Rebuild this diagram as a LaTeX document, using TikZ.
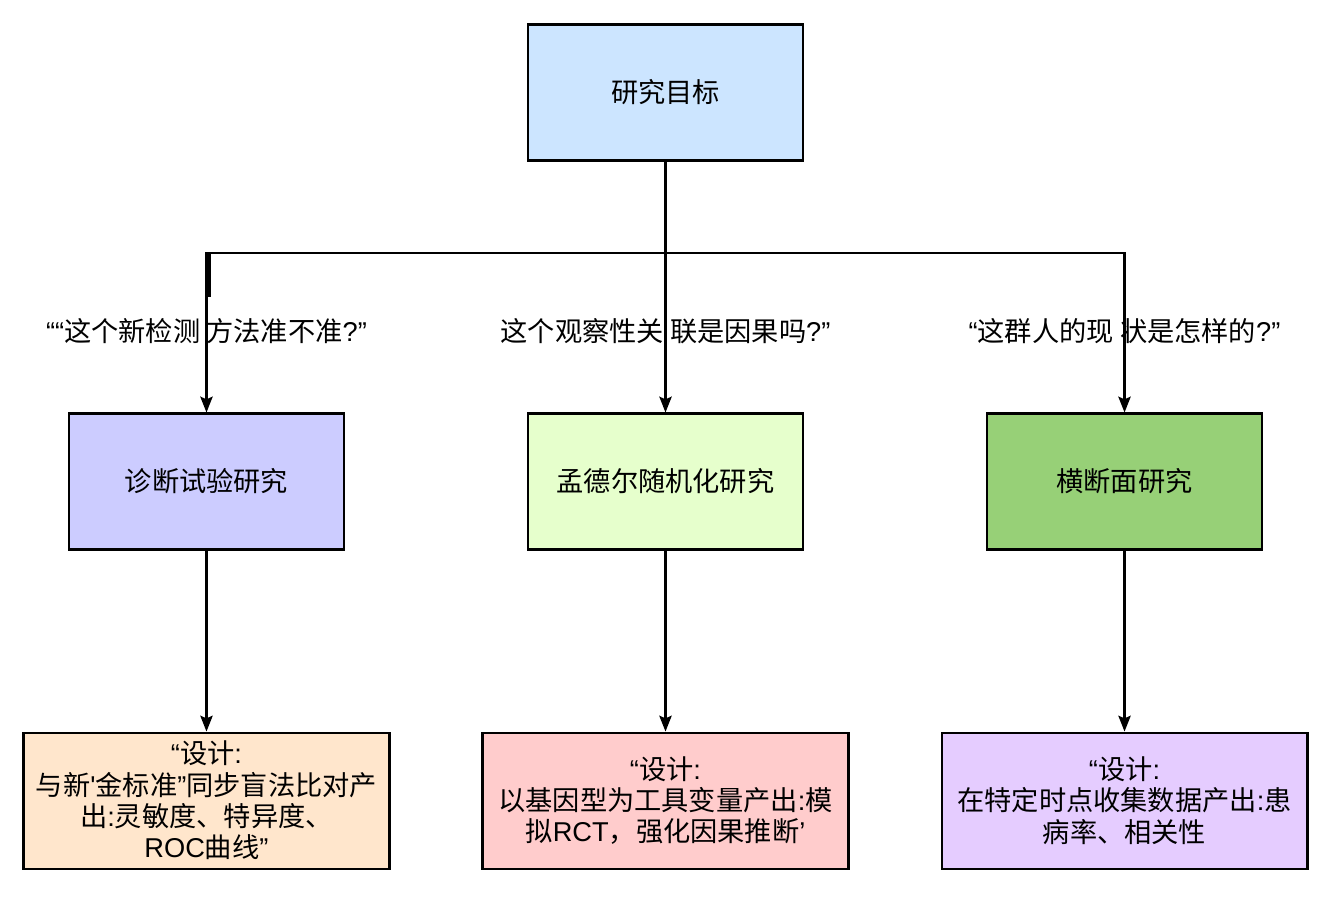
\documentclass[tikz,border=0pt]{standalone}
\usepackage{fontspec}
\setmainfont{Noto Sans CJK SC}
\newfontfamily\latinfont{Liberation Sans}[Ligatures=TeXOff]
\newcommand{\lat}[1]{{\latinfont #1}}
\usetikzlibrary{arrows.meta, positioning}
\definecolor{goalblue}{HTML}{CCE5FF}
\definecolor{diagblue}{HTML}{CCCCFF}
\definecolor{mrgreen}{HTML}{E6FFCC}
\definecolor{crossgreen}{HTML}{97D077}
\definecolor{diagorange}{HTML}{FFE6CC}
\definecolor{mrpink}{HTML}{FFCCCC}
\definecolor{crosspurple}{HTML}{E5CCFF}

\begin{document}
\begin{tikzpicture}[
  x=0.02cm, y=-0.02cm,
  box/.style={rectangle, draw=black, line width=1.2pt,
              minimum width=5.5cm, minimum height=2.72cm,
              align=center, font=\fontsize{15.5}{17.8}\selectfont},
  design/.style={box, minimum width=7.32cm},
  ask/.style={font=\fontsize{15.5}{17.8}\selectfont},
  link/.style={line width=1.3pt},
  arrow/.style={-{Stealth[length=9pt, width=7pt, inset=1.5pt]}, line width=1.3pt}
]
\useasboundingbox (0,0) rectangle (1331,896);

\node[box, fill=goalblue] (goal) at (665.5,92.5) {研究目标};
\node[box, below=5.02cm of goal, fill=mrgreen] (mr) {孟德尔随机化研究};
\node[box, left=3.64cm of mr, fill=diagblue] (diag) {诊断试验研究};
\node[box, right=3.64cm of mr, fill=crossgreen] (cross) {横断面研究};

\node[design, below=3.62cm of diag, fill=diagorange] (diagdesign)
  {\lat{“}设计\lat{:}\\与新\lat{'}金标准\lat{”}同步盲法比对产\\出\lat{:}灵敏度、特异度、\\\lat{ROC}曲线\lat{”}};
\node[design, below=3.62cm of mr, fill=mrpink] (mrdesign)
  {\lat{“}设计\lat{:}\\以基因型为工具变量产出\lat{:}模\\拟\lat{RCT}，强化因果推断\lat{’}};
\node[design, below=3.62cm of cross, fill=crosspurple] (crossdesign)
  {\lat{“}设计\lat{:}\\在特定时点收集数据产出\lat{:}患\\病率、相关性};

% question branches
\coordinate (hub) at (goal.south |- 0,253);
\coordinate (kink) at (diag.north |- hub);
\draw[link] (goal) -- (hub);
\draw[arrow] (hub) -| node[ask, pos=0.745] {\lat{““}这个新检测 方法准不准\lat{?”}} (diag);
\draw[line width=2.4pt] ([xshift=1.5]kink) -- ++(0,44);
\draw[arrow] (hub) -- node[ask, pos=0.49] {这个观察性关 联是因果吗\lat{?”}} (mr);
\draw[arrow] (hub) -| node[ask, pos=0.745] {\lat{“}这群人的现 状是怎样的\lat{?”}} (cross);

\draw[arrow] (diag) -- (diagdesign);
\draw[arrow] (mr) -- (mrdesign);
\draw[arrow] (cross) -- (crossdesign);

\end{tikzpicture}
\end{document}
